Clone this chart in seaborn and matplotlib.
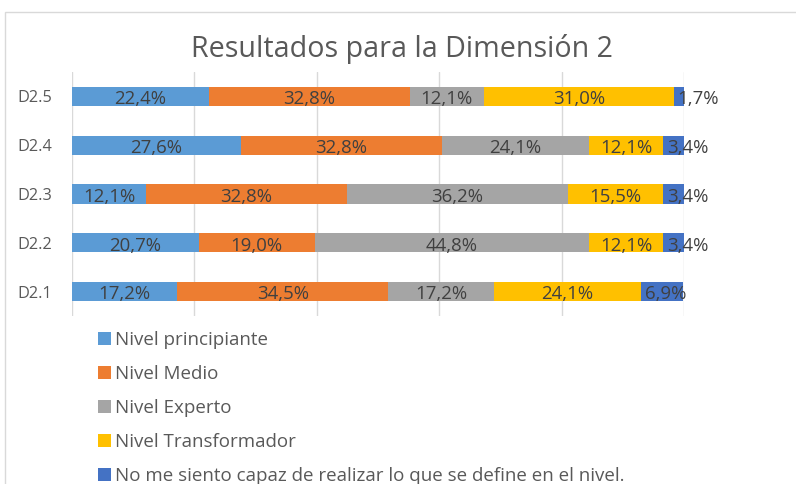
import numpy as np
import pandas as pd
import seaborn as sns
import matplotlib.pyplot as plt
from matplotlib.patches import Rectangle

categories = ['D2.5', 'D2.4', 'D2.3', 'D2.2', 'D2.1']
levels = ['Nivel principiante', 'Nivel Medio', 'Nivel Experto', 'Nivel Transformador',
          'No me siento capaz de realizar lo que se define en el nivel.']
principiante = [22.4, 27.6, 12.1, 20.7, 17.2]
medio = [32.8, 32.8, 32.8, 19.0, 34.5]
experto = [12.1, 24.1, 36.2, 44.8, 17.2]
transformador = [31.0, 12.1, 15.5, 12.1, 24.1]
no_capaz = [1.7, 3.4, 3.4, 3.4, 6.9]
colors = ['#5B9BD5', '#ED7D31', '#A5A5A5', '#FFC000', '#4472C4']

sns.set_style('white')
plt.rcParams['font.family'] = ['Open Sans', 'DejaVu Sans']

df = pd.DataFrame({'cat': categories})
series = [principiante, medio, experto, transformador, no_capaz]
for lvl, vals in zip(levels, series):
    df[lvl] = vals
cum = df[levels].cumsum(axis=1)

fig = plt.figure(figsize=(7.96, 4.84), dpi=100)
ax = fig.add_axes([72 / 796, 1 - 316 / 484, 612 / 796, 244 / 484])

# stacked bars: draw cumulative totals from the last level to the first
for lvl, col in reversed(list(zip(levels, colors))):
    sns.barplot(x=cum[lvl], y=df['cat'], order=categories, orient='h', color=col,
                width=0.39, ax=ax, label=lvl, linewidth=0, saturation=1)

ax.set_xlim(0, 100)
ax.set_ylim(4.5, -0.5)
ax.set_xticks(range(0, 101, 20))
ax.set_xticklabels([])
ax.grid(axis='x', color='#d9d9d9', linewidth=1)
ax.set_axisbelow(True)
ax.tick_params(axis='both', length=0)
ax.tick_params(axis='y', pad=14, labelsize=11.7, labelcolor='#595959')
ax.set_xlabel('')
ax.set_ylabel('')
sns.despine(ax=ax, left=True, bottom=True)

# data labels
for i, cat in enumerate(categories):
    for j, lvl in enumerate(levels):
        v = df.loc[i, lvl]
        right = cum.loc[i, lvl]
        txt = f"{v:.1f}%".replace('.', ',')
        if j == len(levels) - 1:
            ax.annotate(txt, (right - v, i), xytext=(3, -2), textcoords='offset points',
                        ha='left', va='center', fontsize=13.4, color='#404040')
        else:
            ax.annotate(txt, (right - v / 2, i), xytext=(0, -2), textcoords='offset points',
                        ha='center', va='center', fontsize=13.4, color='#404040')

fig.text(402 / 796, 1 - 57 / 484, 'Resultados para la Dimensión 2', ha='center',
         va='baseline', fontsize=20.6, color='#595959')

h, l = ax.get_legend_handles_labels()
order = [l.index(lvl) for lvl in levels]
fig.legend([h[k] for k in order], [l[k] for k in order], loc='upper left',
           bbox_to_anchor=(98 / 796, 1 - 331 / 484), frameon=False, fontsize=13.5,
           handlelength=0.7, handleheight=0.7, handletextpad=0.2, labelspacing=0.85,
           borderpad=0, borderaxespad=0, labelcolor='#595959')
if ax.get_legend() is not None:
    ax.get_legend().remove()

fig.patches.append(Rectangle((5 / 796, -0.1), 1.2, 1.1 - 12 / 484,
                             transform=fig.transFigure, fill=False,
                             edgecolor='#d9d9d9', linewidth=1))

fig.savefig('out.png', dpi=100)
